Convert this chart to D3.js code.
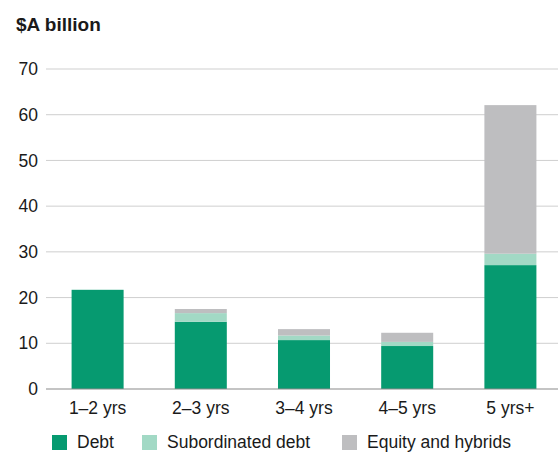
<!DOCTYPE html>
<html>
<head>
<meta charset="utf-8">
<script src="https://cdn.jsdelivr.net/npm/d3@7"></script>
<style>
  body { margin: 0; background: #fff; }
  text { font-family: "Liberation Sans", Arial, sans-serif; fill: #1a1a1a; }
</style>
</head>
<body>
<div id="chart"></div>
<script>
// Data
const categories = ["1–2 yrs", "2–3 yrs", "3–4 yrs", "4–5 yrs", "5 yrs+"];
const debt = [21.7, 14.7, 10.7, 9.4, 27.1];
const subordinated = [0, 1.9, 1.0, 0.9, 2.5];
const equity = [0, 0.9, 1.4, 2.0, 32.5];
const seriesNames = ["Debt", "Subordinated debt", "Equity and hybrids"];
const colors = ["#069a70", "#a2d9c5", "#bebec0"];
const yTicks = [0, 10, 20, 30, 40, 50, 60, 70];

const W = 558, H = 452;
const margin = {top: 69, right: 0, bottom: 63, left: 46};
const width = W - margin.left - margin.right;
const height = H - margin.top - margin.bottom;

const svg = d3.select("#chart").append("svg")
    .attr("width", W)
    .attr("height", H);

// Title
svg.append("text")
    .attr("x", 16)
    .attr("y", 31)
    .style("font-weight", "bold")
    .style("font-size", "19px")
    .text("$A billion");

const g = svg.append("g")
    .attr("transform", `translate(${margin.left},${margin.top})`);

const x = d3.scaleBand()
    .domain(categories)
    .range([0, 516])
    .paddingInner(0.496)
    .paddingOuter(0.248);

const y = d3.scaleLinear()
    .domain([0, 70])
    .range([height, 0]);

// Gridlines
g.selectAll(".grid")
    .data(yTicks.filter(d => d > 0))
    .join("line")
    .attr("x1", 0)
    .attr("x2", width)
    .attr("y1", d => y(d))
    .attr("y2", d => y(d))
    .attr("stroke", "#cfcfcf")
    .attr("stroke-width", 1);

// Y tick labels
g.selectAll(".ytick")
    .data(yTicks)
    .join("text")
    .attr("x", -8)
    .attr("y", d => y(d))
    .attr("dy", "0.35em")
    .attr("text-anchor", "end")
    .style("font-size", "17.5px")
    .text(d => d);

// Stack data
const table = categories.map((c, i) => ({
    cat: c, Debt: debt[i], "Subordinated debt": subordinated[i], "Equity and hybrids": equity[i]
}));
const stacked = d3.stack().keys(seriesNames)(table);

g.selectAll(".layer")
    .data(stacked)
    .join("g")
    .attr("fill", (d, i) => colors[i])
    .selectAll("rect")
    .data(d => d)
    .join("rect")
    .attr("x", d => x(d.data.cat))
    .attr("width", x.bandwidth())
    .attr("y", d => y(d[1]))
    .attr("height", d => y(d[0]) - y(d[1]));

// Baseline
g.append("line")
    .attr("x1", 0)
    .attr("x2", width)
    .attr("y1", y(0))
    .attr("y2", y(0))
    .attr("stroke", "#8a8a8a")
    .attr("stroke-width", 1.2);

// X labels
g.selectAll(".xlabel")
    .data(categories)
    .join("text")
    .attr("x", d => x(d) + x.bandwidth() / 2)
    .attr("y", height + 25)
    .attr("text-anchor", "middle")
    .style("font-size", "17.5px")
    .text(d => d);

// Legend
const legendX = [52, 142, 342];
const legend = svg.selectAll(".legend")
    .data(seriesNames)
    .join("g")
    .attr("transform", (d, i) => `translate(${legendX[i]},435)`);

legend.append("rect")
    .attr("width", 15)
    .attr("height", 15)
    .attr("fill", (d, i) => colors[i]);

legend.append("text")
    .attr("x", 25)
    .attr("y", 13)
    .style("font-size", "17.5px")
    .text(d => d);
</script>
</body>
</html>
